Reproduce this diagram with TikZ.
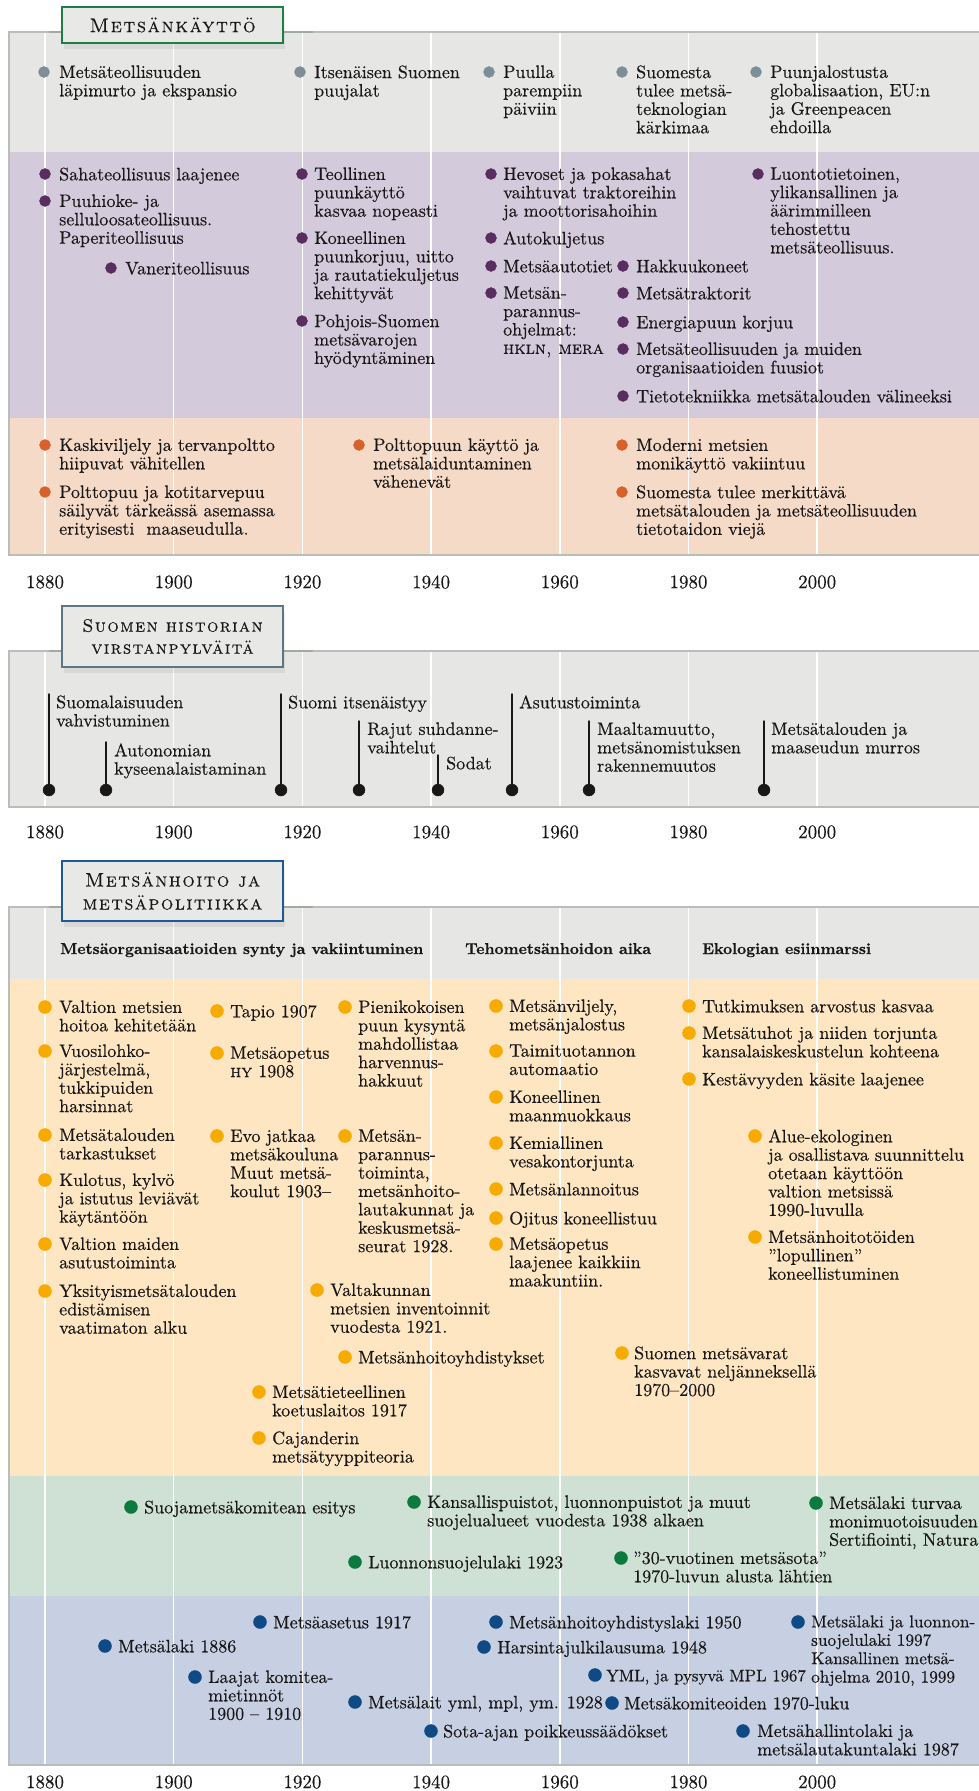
\documentclass[tikz,border=0pt]{standalone}
\usepackage{fontspec}
\newfontfamily\bodyfont{lmroman10-regular}[Extension=.otf, FakeBold=0.4]
\newfontfamily\headfont{lmroman10-bold}[Extension=.otf, FakeBold=0.6]
\newfontfamily\capsfont{lmromancaps10-regular}[Extension=.otf, LetterSpace=8, FakeBold=0.3]
\newfontfamily\scfont{lmromancaps10-regular}[Extension=.otf, FakeBold=0.4]
\usetikzlibrary{shadows}

\definecolor{bandgray}{HTML}{E6E6E4}
\definecolor{bandpurple}{HTML}{D3CADB}
\definecolor{bandpeach}{HTML}{F5DBC7}
\definecolor{bandyellow}{HTML}{FDE6C1}
\definecolor{bandgreen}{HTML}{CFE0D4}
\definecolor{bandblue}{HTML}{C6D0E2}
\definecolor{edgegray}{HTML}{B9BEBA}
\definecolor{edgedark}{HTML}{A0A9A2}
\definecolor{dotgray}{HTML}{7E8E99}
\definecolor{dotpurple}{HTML}{5A2D60}
\definecolor{dotred}{HTML}{D8612B}
\definecolor{dotyellow}{HTML}{F7AB00}
\definecolor{dotgreen}{HTML}{0C7A3E}
\definecolor{dotblue}{HTML}{0F4A85}
\definecolor{boxgreen}{HTML}{1F7E45}
\definecolor{boxslate}{HTML}{5D7686}
\definecolor{boxblue}{HTML}{1E5A95}
\definecolor{boxfill}{HTML}{E8E8E6}
\definecolor{ink}{HTML}{1A1718}

\begin{document}
\begin{tikzpicture}[x=1pt, y=-1pt, line cap=round,
  txt/.style={anchor=north west, yshift=12.8pt, align=left, inner sep=0pt, text=ink,
    font=\bodyfont\fontsize{18}{18.4}\selectfont, execute at begin node=\strut},
  head/.style={anchor=base west, inner sep=0pt, text=ink, font=\headfont\fontsize{15.7}{18}\selectfont},
  yearlab/.style={inner sep=0pt, text=ink, font=\bodyfont\fontsize{19}{20}\selectfont},
  titlebox/.style={fill=boxfill, line width=1.6pt, align=center, text=ink, inner sep=0pt,
    drop shadow={shadow xshift=2pt, shadow yshift=-6pt, opacity=0.13}},
  stem/.style={ink, line width=1.4pt}]

\useasboundingbox (0,0) rectangle (979,1791);

%%%%%%%%%%%%
% Panel 1: Metsankaytto

\fill[bandgray]   (9,32)  rectangle (979,152);
\fill[bandpurple] (9,152) rectangle (979,418);
\fill[bandpeach]  (9,418) rectangle (979,555);

% Panel 2: historia
\fill[bandgray] (9,651) rectangle (979,807);

% Panel 3: metsanhoito
\fill[bandgray]   (9,907)  rectangle (979,979);
\fill[bandyellow] (9,979)  rectangle (979,1476);
\fill[bandgreen]  (9,1476) rectangle (979,1596);
\fill[bandblue]   (9,1596) rectangle (979,1765);

% year lines and years
\foreach \yr [count=\i from 0] in {1880,1900,...,2000} {
  \draw[white, line width=1.5pt] ({45+\i*128.7},32)  -- ++(0,523);
  \draw[white, line width=1.5pt] ({45+\i*128.7},651) -- ++(0,156);
  \draw[white, line width=1.5pt] ({45+\i*128.7},907) -- ++(0,858);
  \node[yearlab] (ya\yr) at ({45+\i*128.7},582)  {\yr};
  \node[yearlab] (yb\yr) at ({45+\i*128.7},832)  {\yr};
  \node[yearlab] (yc\yr) at ({45+\i*128.7},1782) {\yr};
}

% edges
\draw[edgegray, line width=2pt] (979,32) -- (9,32) -- (9,555) -- (979,555);
\draw[edgegray, line width=2pt] (979,651) -- (9,651) -- (9,807) -- (979,807);
\draw[edgegray, line width=2pt] (979,907) -- (9,907) -- (9,1765) -- (979,1765);
\draw[edgedark, line width=2.2pt] (50,32) -- (312,32);
\draw[edgedark, line width=2.2pt] (50,651) -- (312,651);
\draw[edgedark, line width=2.2pt] (50,907) -- (312,907);

% Title boxes
\node[titlebox, draw=boxgreen, minimum width=221pt, minimum height=36pt,
  font=\capsfont\fontsize{20}{22}\selectfont] (tit1) at (172.5,25) {Metsänkäyttö};
\node[titlebox, draw=boxslate, minimum width=221pt, minimum height=61pt,
  font=\capsfont\fontsize{18}{22}\selectfont] (tit2) at (172.5,636.5) {Suomen historian\\virstanpylväitä};
\node[titlebox, draw=boxblue, minimum width=221pt, minimum height=60pt,
  font=\capsfont\fontsize{19.5}{23}\selectfont] (tit3) at (172.5,891) {Metsänhoito ja\\metsäpolitiikka};

%%%%%%%%%%%%
% gray row
\draw[fill=dotgray, draw=dotgray] (44,72) circle (5.5pt);  \node[txt] (gr1) at (59,78)  {Metsäteollisuuden\\läpimurto ja ekspansio};
\draw[fill=dotgray, draw=dotgray] (300,72) circle (5.5pt); \node[txt] (gr2) at (314,78) {Itsenäisen Suomen\\puujalat};
\draw[fill=dotgray, draw=dotgray] (489,72) circle (5.5pt); \node[txt] (gr3) at (503,78) {Puulla\\parempiin\\päiviin};
\draw[fill=dotgray, draw=dotgray] (622,72) circle (5.5pt); \node[txt] (gr4) at (636,78) {Suomesta\\tulee metsä-\\teknologian\\kärkimaa};
\draw[fill=dotgray, draw=dotgray] (756,72) circle (5.5pt); \node[txt] (gr5) at (770,78) {Puunjalostusta\\globalisaation, EU:n\\ja Greenpeacen\\ehdoilla};

% purple row
\draw[fill=dotpurple, draw=dotpurple] (45,174) circle (5.5pt);  \node[txt] (pu1) at (59,180)  {Sahateollisuus laajenee};
\draw[fill=dotpurple, draw=dotpurple] (45,201) circle (5.5pt);  \node[txt] (pu2) at (59,207)  {Puuhioke- ja\\selluloosateollisuus.\\Paperiteollisuus};
\draw[fill=dotpurple, draw=dotpurple] (111,268) circle (5.5pt); \node[txt] (pu3) at (125,274) {Vaneriteollisuus};
\draw[fill=dotpurple, draw=dotpurple] (302,174) circle (5.5pt); \node[txt] (pu4) at (314,180) {Teollinen\\puunkäyttö\\kasvaa nopeasti};
\draw[fill=dotpurple, draw=dotpurple] (302,238) circle (5.5pt); \node[txt] (pu5) at (314,244) {Koneellinen\\puunkorjuu, uitto\\ja rautatiekuljetus\\kehittyvät};
\draw[fill=dotpurple, draw=dotpurple] (302,321) circle (5.5pt); \node[txt] (pu6) at (314,327) {Pohjois-Suomen\\metsävarojen\\hyödyntäminen};
\draw[fill=dotpurple, draw=dotpurple] (491,174) circle (5.5pt); \node[txt] (pu7) at (503,180) {Hevoset ja pokasahat\\vaihtuvat traktoreihin\\ja moottorisahoihin};
\draw[fill=dotpurple, draw=dotpurple] (491,238) circle (5.5pt); \node[txt] (pu8) at (503,244) {Autokuljetus};
\draw[fill=dotpurple, draw=dotpurple] (491,266) circle (5.5pt); \node[txt] (pu9) at (503,272) {Metsäautotiet};
\draw[fill=dotpurple, draw=dotpurple] (491,293) circle (5.5pt); \node[txt] (pu10) at (503,299) {Metsän-\\parannus-\\ohjelmat:\\{\scfont hkln, mera}};
\draw[fill=dotpurple, draw=dotpurple] (623,266) circle (5.5pt); \node[txt] (pu11) at (636,272) {Hakkuukoneet};
\draw[fill=dotpurple, draw=dotpurple] (623,293) circle (5.5pt); \node[txt] (pu12) at (636,299) {Metsätraktorit};
\draw[fill=dotpurple, draw=dotpurple] (623,322) circle (5.5pt); \node[txt] (pu13) at (636,328) {Energiapuun korjuu};
\draw[fill=dotpurple, draw=dotpurple] (623,349) circle (5.5pt); \node[txt] (pu14) at (636,355) {Metsäteollisuuden ja muiden\\organisaatioiden fuusiot};
\draw[fill=dotpurple, draw=dotpurple] (623,396) circle (5.5pt); \node[txt] (pu15) at (636,402) {Tietotekniikka metsätalouden välineeksi};
\draw[fill=dotpurple, draw=dotpurple] (758,174) circle (5.5pt); \node[txt] (pu16) at (770,180) {Luontotietoinen,\\ylikansallinen ja\\äärimmilleen\\tehostettu\\metsäteollisuus.};

% peach row
\draw[fill=dotred, draw=dotred] (45,445) circle (5.5pt);  \node[txt] (pe1) at (59,451)  {Kaskiviljely ja tervanpoltto\\hiipuvat vähitellen};
\draw[fill=dotred, draw=dotred] (45,492) circle (5.5pt);  \node[txt] (pe2) at (59,498)  {Polttopuu ja kotitarvepuu\\säilyvät tärkeässä asemassa\\erityisesti\ \ maaseudulla.};
\draw[fill=dotred, draw=dotred] (359,445) circle (5.5pt); \node[txt] (pe3) at (373,451) {Polttopuun käyttö ja\\metsälaiduntaminen\\vähenevät};
\draw[fill=dotred, draw=dotred] (622,445) circle (5.5pt); \node[txt] (pe4) at (636,451) {Moderni metsien\\monikäyttö vakiintuu};
\draw[fill=dotred, draw=dotred] (622,492) circle (5.5pt); \node[txt] (pe5) at (636,498) {Suomesta tulee merkittävä\\metsätalouden ja metsäteollisuuden\\tietotaidon viejä};

%%%%%%%%%%%%
% Milestones

\coordinate (s1) at (49,694);  \coordinate (d1) at (49,790);
\coordinate (s2) at (106,742); \coordinate (d2) at (106,790);
\coordinate (s3) at (281,694); \coordinate (d3) at (281,790);
\coordinate (s4) at (359,721); \coordinate (d4) at (359,790);
\coordinate (s5) at (438,755); \coordinate (d5) at (438,790);
\coordinate (s6) at (512,694); \coordinate (d6) at (512,790);
\coordinate (s7) at (589,721); \coordinate (d7) at (589,790);
\coordinate (s8) at (764,721); \coordinate (d8) at (764,790);

\foreach \k in {1,...,8} {
  \draw[stem] (s\k) -- (d\k);
  \draw[fill=ink, draw=ink] (d\k) circle (6pt);
}

\node[txt] (ms1) at (56,708)  {Suomalaisuuden\\vahvistuminen};
\node[txt] (ms2) at (114,756) {Autonomian\\kyseenalaistaminan};
\node[txt] (ms3) at (288,708) {Suomi itsenäistyy};
\node[txt] (ms4) at (367,735) {Rajut suhdanne-\\vaihtelut};
\node[txt] (ms5) at (446,769) {Sodat};
\node[txt] (ms6) at (519,708) {Asutustoiminta};
\node[txt] (ms7) at (597,735) {Maaltamuutto,\\metsänomistuksen\\rakennemuutos};
\node[txt] (ms8) at (771,735) {Metsätalouden ja\\maaseudun murros};

%%%%%%%%%%%%
% Periods
\node[head] (per1) at (60,954)  {Metsäorganisaatioiden synty ja vakiintuminen};
\node[head] (per2) at (465,954) {Tehometsänhoidon aika};
\node[head] (per3) at (702,954) {Ekologian esiinmarssi};

% yellow row
\draw[fill=dotyellow, draw=dotyellow] (45,1007) circle (6.5pt); \node[txt] (ye1) at (59,1013) {Valtion metsien\\hoitoa kehitetään};
\draw[fill=dotyellow, draw=dotyellow] (45,1051) circle (6.5pt); \node[txt] (ye2) at (59,1057) {Vuosilohko-\\järjestelmä,\\tukkipuiden\\harsinnat};
\draw[fill=dotyellow, draw=dotyellow] (45,1135) circle (6.5pt); \node[txt] (ye3) at (59,1141) {Metsätalouden\\tarkastukset};
\draw[fill=dotyellow, draw=dotyellow] (45,1180) circle (6.5pt); \node[txt] (ye4) at (59,1186) {Kulotus, kylvö\\ja istutus leviävät\\käytäntöön};
\draw[fill=dotyellow, draw=dotyellow] (45,1244) circle (6.5pt); \node[txt] (ye5) at (59,1250) {Valtion maiden\\asutustoiminta};
\draw[fill=dotyellow, draw=dotyellow] (45,1291) circle (6.5pt); \node[txt] (ye6) at (59,1297) {Yksityismetsätalouden\\edistämisen\\vaatimaton alku};
\draw[fill=dotyellow, draw=dotyellow] (217,1011) circle (6.5pt); \node[txt] (ye7) at (230,1017) {Tapio 1907};
\draw[fill=dotyellow, draw=dotyellow] (217,1053) circle (6.5pt); \node[txt] (ye8) at (230,1059) {Metsäopetus\\{\scfont hy} 1908};
\draw[fill=dotyellow, draw=dotyellow] (217,1136) circle (6.5pt); \node[txt] (ye9) at (230,1142) {Evo jatkaa\\metsäkouluna\\Muut metsä-\\koulut 1903–};
\draw[fill=dotyellow, draw=dotyellow] (345,1007) circle (6.5pt); \node[txt] (ye10) at (358,1013) {Pienikokoisen\\puun kysyntä\\mahdollistaa\\harvennus-\\hakkuut};
\draw[fill=dotyellow, draw=dotyellow] (345,1136) circle (6.5pt); \node[txt] (ye11) at (358,1142) {Metsän-\\parannus-\\toiminta,\\metsänhoito-\\lautakunnat ja\\keskusmetsä-\\seurat 1928.};
\draw[fill=dotyellow, draw=dotyellow] (317,1290) circle (6.5pt); \node[txt] (ye12) at (330,1296) {Valtakunnan\\metsien inventoinnit\\vuodesta 1921.};
\draw[fill=dotyellow, draw=dotyellow] (345,1357) circle (6.5pt); \node[txt] (ye13) at (358,1363) {Metsänhoitoyhdistykset};
\draw[fill=dotyellow, draw=dotyellow] (259,1392) circle (6.5pt); \node[txt] (ye14) at (272,1398) {Metsätieteellinen\\koetuslaitos 1917};
\draw[fill=dotyellow, draw=dotyellow] (259,1438) circle (6.5pt); \node[txt] (ye15) at (272,1444) {Cajanderin\\metsätyyppiteoria};
\draw[fill=dotyellow, draw=dotyellow] (496,1006) circle (6.5pt); \node[txt] (ye16) at (509,1012) {Metsänviljely,\\metsänjalostus};
\draw[fill=dotyellow, draw=dotyellow] (496,1051) circle (6.5pt); \node[txt] (ye17) at (509,1057) {Taimituotannon\\automaatio};
\draw[fill=dotyellow, draw=dotyellow] (496,1097) circle (6.5pt); \node[txt] (ye18) at (509,1103) {Koneellinen\\maanmuokkaus};
\draw[fill=dotyellow, draw=dotyellow] (496,1143) circle (6.5pt); \node[txt] (ye19) at (509,1149) {Kemiallinen\\vesakontorjunta};
\draw[fill=dotyellow, draw=dotyellow] (496,1189) circle (6.5pt); \node[txt] (ye20) at (509,1195) {Metsänlannoitus};
\draw[fill=dotyellow, draw=dotyellow] (496,1218) circle (6.5pt); \node[txt] (ye21) at (509,1224) {Ojitus koneellistuu};
\draw[fill=dotyellow, draw=dotyellow] (496,1244) circle (6.5pt); \node[txt] (ye22) at (509,1250) {Metsäopetus\\laajenee kaikkiin\\maakuntiin.};
\draw[fill=dotyellow, draw=dotyellow] (689,1006) circle (6.5pt); \node[txt] (ye23) at (702,1012) {Tutkimuksen arvostus kasvaa};
\draw[fill=dotyellow, draw=dotyellow] (689,1033) circle (6.5pt); \node[txt] (ye24) at (702,1039) {Metsätuhot ja niiden torjunta\\kansalaiskeskustelun kohteena};
\draw[fill=dotyellow, draw=dotyellow] (689,1079) circle (6.5pt); \node[txt] (ye25) at (702,1085) {Kestävyyden käsite laajenee};
\draw[fill=dotyellow, draw=dotyellow] (755,1136) circle (6.5pt); \node[txt] (ye26) at (768,1142) {Alue-ekologinen\\ja osallistava suunnittelu\\otetaan käyttöön\\valtion metsissä\\1990-luvulla};
\draw[fill=dotyellow, draw=dotyellow] (755,1237) circle (6.5pt); \node[txt] (ye27) at (768,1243) {Metsänhoitotöiden\\”lopullinen”\\koneellistuminen};
\draw[fill=dotyellow, draw=dotyellow] (622,1353) circle (6.5pt); \node[txt] (ye28) at (634,1359) {Suomen metsävarat\\kasvavat neljänneksellä\\1970–2000};

% green row
\draw[fill=dotgreen, draw=dotgreen] (131,1507) circle (6.5pt); \node[txt] (gn1) at (144,1513) {Suojametsäkomitean esitys};
\draw[fill=dotgreen, draw=dotgreen] (414,1502) circle (6.5pt); \node[txt] (gn2) at (427,1508) {Kansallispuistot, luonnonpuistot ja muut\\suojelualueet vuodesta 1938 alkaen};
\draw[fill=dotgreen, draw=dotgreen] (355,1562) circle (6.5pt); \node[txt] (gn3) at (368,1568) {Luonnonsuojelulaki 1923};
\draw[fill=dotgreen, draw=dotgreen] (816,1503) circle (6.5pt); \node[txt] (gn4) at (829,1509) {Metsälaki turvaa\\monimuotoisuuden\\Sertifiointi, Natura};
\draw[fill=dotgreen, draw=dotgreen] (621,1558) circle (6.5pt); \node[txt] (gn5) at (633,1564) {”30-vuotinen metsäsota”\\1970-luvun alusta lähtien};

% blue row
\draw[fill=dotblue, draw=dotblue] (260,1622) circle (6.5pt); \node[txt] (bl1) at (273,1628) {Metsäasetus 1917};
\draw[fill=dotblue, draw=dotblue] (105,1646) circle (6.5pt); \node[txt] (bl2) at (118,1652) {Metsälaki 1886};
\draw[fill=dotblue, draw=dotblue] (195,1677) circle (6.5pt); \node[txt] (bl3) at (208,1683) {Laajat komitea-\\mietinnöt\\1900 – 1910};
\draw[fill=dotblue, draw=dotblue] (355,1702) circle (6.5pt); \node[txt] (bl4) at (368,1708) {Metsälait yml, mpl, ym. 1928};
\draw[fill=dotblue, draw=dotblue] (431,1731) circle (6.5pt); \node[txt] (bl5) at (443,1737) {Sota-ajan poikkeussäädökset};
\draw[fill=dotblue, draw=dotblue] (496,1622) circle (6.5pt); \node[txt] (bl6) at (509,1628) {Metsänhoitoyhdistyslaki 1950};
\draw[fill=dotblue, draw=dotblue] (484,1647) circle (6.5pt); \node[txt] (bl7) at (497,1653) {Harsintajulkilausuma 1948};
\draw[fill=dotblue, draw=dotblue] (595,1675) circle (6.5pt); \node[txt, font=\bodyfont\fontsize{16.8}{18.4}\selectfont] (bl8) at (606,1681) {YML, ja pysyvä MPL 1967};
\draw[fill=dotblue, draw=dotblue] (612,1703) circle (6.5pt); \node[txt] (bl9) at (624,1709) {Metsäkomiteoiden 1970-luku};
\draw[fill=dotblue, draw=dotblue] (743,1731) circle (6.5pt); \node[txt] (bl10) at (757,1737) {Metsähallintolaki ja\\metsälautakuntalaki 1987};
\draw[fill=dotblue, draw=dotblue] (798,1622) circle (6.5pt); \node[txt, font=\bodyfont\fontsize{17.2}{18.4}\selectfont] (bl11) at (811,1628) {Metsälaki ja luonnon-\\suojelulaki 1997\\Kansallinen metsä-\\ohjelma 2010, 1999};

\end{tikzpicture}
\end{document}
